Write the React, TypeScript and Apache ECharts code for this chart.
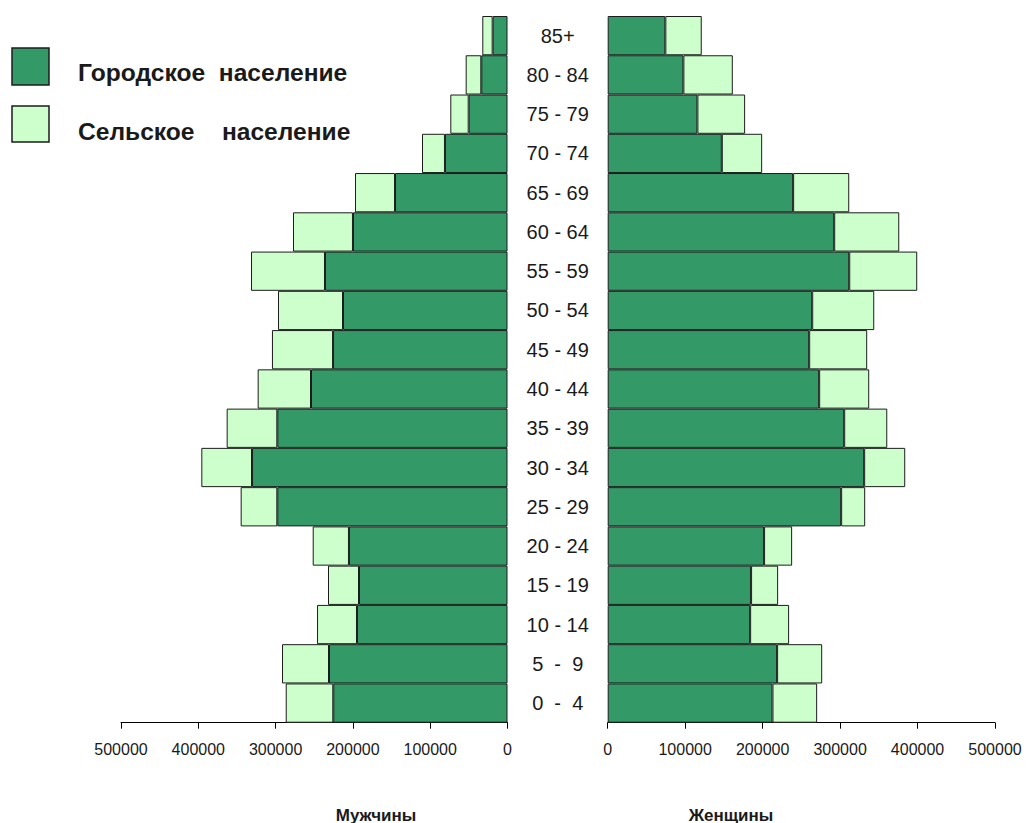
import React, { useEffect, useRef } from 'react';
import * as echarts from 'echarts';

// Age groups, bottom to top
const ageGroups = ['0  -  4', '5  -  9', '10 - 14', '15 - 19', '20 - 24', '25 - 29', '30 - 34', '35 - 39', '40 - 44', '45 - 49', '50 - 54', '55 - 59', '60 - 64', '65 - 69', '70 - 74', '75 - 79', '80 - 84', '85+'];

// Men (Мужчины)
const menUrban = [225400, 230900, 194700, 192100, 205100, 297800, 330500, 297800, 254200, 225700, 212800, 236100, 199900, 145500, 80900, 50200, 33900, 19200];
const menRural = [61500, 60800, 51700, 40100, 46900, 47400, 65600, 65500, 69000, 79000, 84100, 95700, 77600, 51800, 29700, 23800, 20200, 13400];

// Women (Женщины)
const womenUrban = [212700, 218700, 183900, 185100, 201900, 301400, 331100, 305300, 273000, 260100, 264000, 311800, 292400, 239400, 147300, 115800, 97700, 74400];
const womenRural = [57700, 58200, 50300, 34900, 36200, 31000, 53000, 55600, 64600, 74900, 80100, 87800, 84000, 72400, 52100, 61600, 63800, 47000];

const seriesNames = ['Городское  население', 'Сельское    население'];
const sideTitles = ['Мужчины', 'Женщины'];
const axisMax = 500000;
const axisStep = 100000;

export default function App() {
  const ref = useRef<HTMLDivElement>(null);

  useEffect(() => {
    if (!ref.current) return;
    const chart = echarts.init(ref.current, null, { renderer: 'svg' });
    const FONT = '"Liberation Sans", Arial, Helvetica, sans-serif';
    const DARK = '#339966';
    const LIGHT = '#CCFFCC';
    const EDGE = '#1c1c1c';
    const TEXT = '#1a1a1a';

    const valueAxis = (gridIndex: number, inverse: boolean) => ({
      type: 'value',
      gridIndex,
      inverse,
      min: 0,
      max: axisMax,
      interval: axisStep,
      axisLine: { show: true, lineStyle: { color: '#000', width: 1 } },
      axisTick: { show: true, length: 6, lineStyle: { color: '#000', width: 1 } },
      axisLabel: { fontFamily: FONT, fontSize: 16, color: TEXT, margin: 19, formatter: (v: number) => String(v) },
      splitLine: { show: false },
    });

    const bar = (name: string, data: number[], idx: number, stack: string, color: string) => ({
      type: 'bar',
      name,
      data,
      xAxisIndex: idx,
      yAxisIndex: idx,
      stack,
      barCategoryGap: '0%',
      itemStyle: { color, borderColor: EDGE, borderWidth: 1 },
      emphasis: { disabled: true },
    });

    chart.setOption({
      animation: false,
      backgroundColor: '#ffffff',
      grid: [
        { left: 121, top: 16, width: 386.5, height: 706.7 },
        { left: 607.7, top: 16, width: 387.3, height: 706.7 },
      ],
      xAxis: [valueAxis(0, true), valueAxis(1, false)],
      yAxis: [
        {
          type: 'category',
          gridIndex: 0,
          data: ageGroups,
          axisLine: { show: false },
          axisTick: { show: false },
          axisLabel: { show: false },
        },
        {
          type: 'category',
          gridIndex: 1,
          data: ageGroups,
          position: 'left',
          axisLine: { show: false },
          axisTick: { show: false },
          axisLabel: { fontFamily: FONT, fontSize: 20, color: TEXT, align: 'center', margin: 50 },
        },
      ],
      series: [
        bar(seriesNames[0], menUrban, 0, 'men', DARK),
        bar(seriesNames[1], menRural, 0, 'men', LIGHT),
        bar(seriesNames[0], womenUrban, 1, 'women', DARK),
        bar(seriesNames[1], womenRural, 1, 'women', LIGHT),
      ],
      graphic: [
        { type: 'rect', shape: { x: 12, y: 48, width: 37, height: 37 }, style: { fill: DARK, stroke: EDGE, lineWidth: 1.5 } },
        { type: 'text', x: 78, y: 72, style: { text: seriesNames[0], font: `bold 24.6px ${FONT}`, fill: TEXT, verticalAlign: 'middle' } },
        { type: 'rect', shape: { x: 12, y: 106, width: 37, height: 36 }, style: { fill: LIGHT, stroke: EDGE, lineWidth: 1.5 } },
        { type: 'text', x: 78, y: 131, style: { text: seriesNames[1], font: `bold 24.6px ${FONT}`, fill: TEXT, verticalAlign: 'middle' } },
        { type: 'text', x: 376, y: 815, style: { text: sideTitles[0], font: `bold 17px ${FONT}`, fill: TEXT, align: 'center', verticalAlign: 'middle' } },
        { type: 'text', x: 731, y: 815, style: { text: sideTitles[1], font: `bold 17px ${FONT}`, fill: TEXT, align: 'center', verticalAlign: 'middle' } },
      ],
    });

    return () => chart.dispose();
  }, []);

  return <div ref={ref} style={{ position: 'fixed', left: 0, top: 0, width: 1026, height: 823 }} />;
}
